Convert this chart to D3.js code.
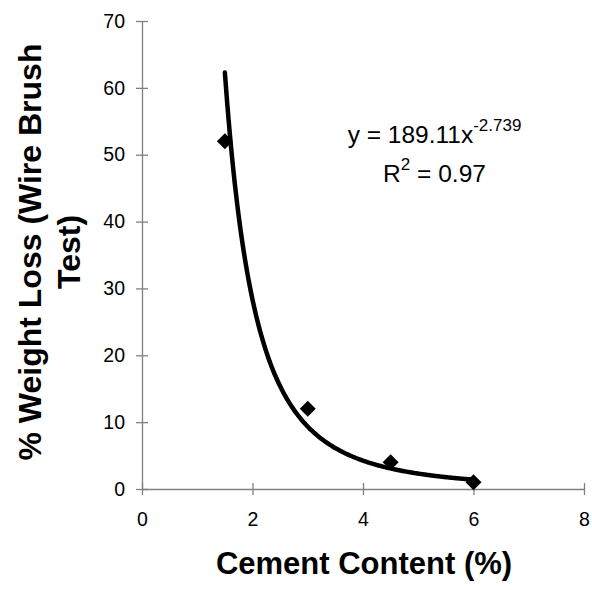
<!DOCTYPE html>
<html>
<head>
<meta charset="utf-8">
<script src="https://cdn.jsdelivr.net/npm/d3@7"></script>
<style>
  html, body { margin: 0; padding: 0; background: #fff; }
  svg text { font-family: "Liberation Sans", Arial, sans-serif; fill: #000; }
</style>
</head>
<body>
<svg id="chart" width="592" height="590"></svg>
<script>
// Measured samples
const cementContent = [1.5, 3, 4.5, 6];
const weightLoss = [52, 12, 4, 1];

// Power-law trendline y = a * x^b
const fitA = 189.11;
const fitB = -2.739;
const fitR2 = 0.97;
const fitRange = [1.5, 6];

const xTicks = [0, 2, 4, 6, 8];
const yTicks = [0, 10, 20, 30, 40, 50, 60, 70];

const svg = d3.select("#chart");
const x = d3.scaleLinear().domain([0, 8]).range([142, 584]);
const y = d3.scaleLinear().domain([0, 70]).range([489, 21]);

const axisColor = "#808080";
const fontFam = "Liberation Sans, Arial, sans-serif";

// Y axis
const yAxis = svg.append("g").attr("transform", `translate(${x(0)},0)`)
  .call(d3.axisLeft(y).tickValues(yTicks).tickSizeInner(6).tickSizeOuter(0).tickPadding(11));
yAxis.select(".domain").attr("stroke", axisColor).attr("stroke-width", 1.3);
yAxis.selectAll(".tick line").attr("stroke", axisColor).attr("stroke-width", 1.3).attr("x1", -6).attr("x2", 6);
yAxis.selectAll(".tick text").attr("font-size", 19.5).attr("font-family", fontFam).attr("fill", "#000");

// X axis
const xAxis = svg.append("g").attr("transform", `translate(0,${y(0)})`)
  .call(d3.axisBottom(x).tickValues(xTicks).tickSizeInner(6).tickSizeOuter(0).tickPadding(17));
xAxis.select(".domain").attr("stroke", axisColor).attr("stroke-width", 1.3);
xAxis.selectAll(".tick line").attr("stroke", axisColor).attr("stroke-width", 1.3).attr("y1", -6).attr("y2", 6);
xAxis.selectAll(".tick text").attr("font-size", 19.5).attr("font-family", fontFam).attr("fill", "#000");

// Trendline
const steps = 200;
const fitPts = d3.range(steps + 1).map(i => {
  const xv = fitRange[0] + (fitRange[1] - fitRange[0]) * i / steps;
  return [xv, fitA * Math.pow(xv, fitB)];
});
svg.append("path")
  .datum(fitPts)
  .attr("fill", "none")
  .attr("stroke", "#000")
  .attr("stroke-width", 4.5)
  .attr("stroke-linecap", "round")
  .attr("d", d3.line().x(d => x(d[0])).y(d => y(d[1])).curve(d3.curveMonotoneX));

// Data markers (diamonds)
svg.append("g").selectAll("path")
  .data(cementContent.map((c, i) => [c, weightLoss[i]]))
  .join("path")
  .attr("transform", d => `translate(${x(d[0])},${y(d[1])})`)
  .attr("d", "M0,-8L8,0L0,8L-8,0Z")
  .attr("fill", "#000");

// Equation label
const eq = svg.append("text").attr("x", 434.5).attr("y", 143).attr("text-anchor", "middle").attr("font-size", 24.5);
eq.append("tspan").text(`y = ${fitA}x`);
eq.append("tspan").attr("font-size", 17).attr("dy", -12).text(fitB);

const r2 = svg.append("text").attr("x", 434.5).attr("y", 182).attr("text-anchor", "middle").attr("font-size", 24.5);
r2.append("tspan").text("R");
r2.append("tspan").attr("font-size", 17).attr("dy", -12).text("2");
r2.append("tspan").attr("dy", 12).text(` = ${fitR2}`);

// Axis titles
svg.append("text")
  .attr("x", 364).attr("y", 574)
  .attr("text-anchor", "middle")
  .attr("font-size", 31).attr("font-weight", "bold")
  .text("Cement Content (%)");

const yt = svg.append("text")
  .attr("transform", "translate(0,252) rotate(-90)")
  .attr("text-anchor", "middle")
  .attr("font-size", 32).attr("font-weight", "bold");
yt.append("tspan").attr("x", 0).attr("y", 41).text("% Weight Loss (Wire Brush");
yt.append("tspan").attr("x", 0).attr("y", 80).text("Test)");
</script>
</body>
</html>
